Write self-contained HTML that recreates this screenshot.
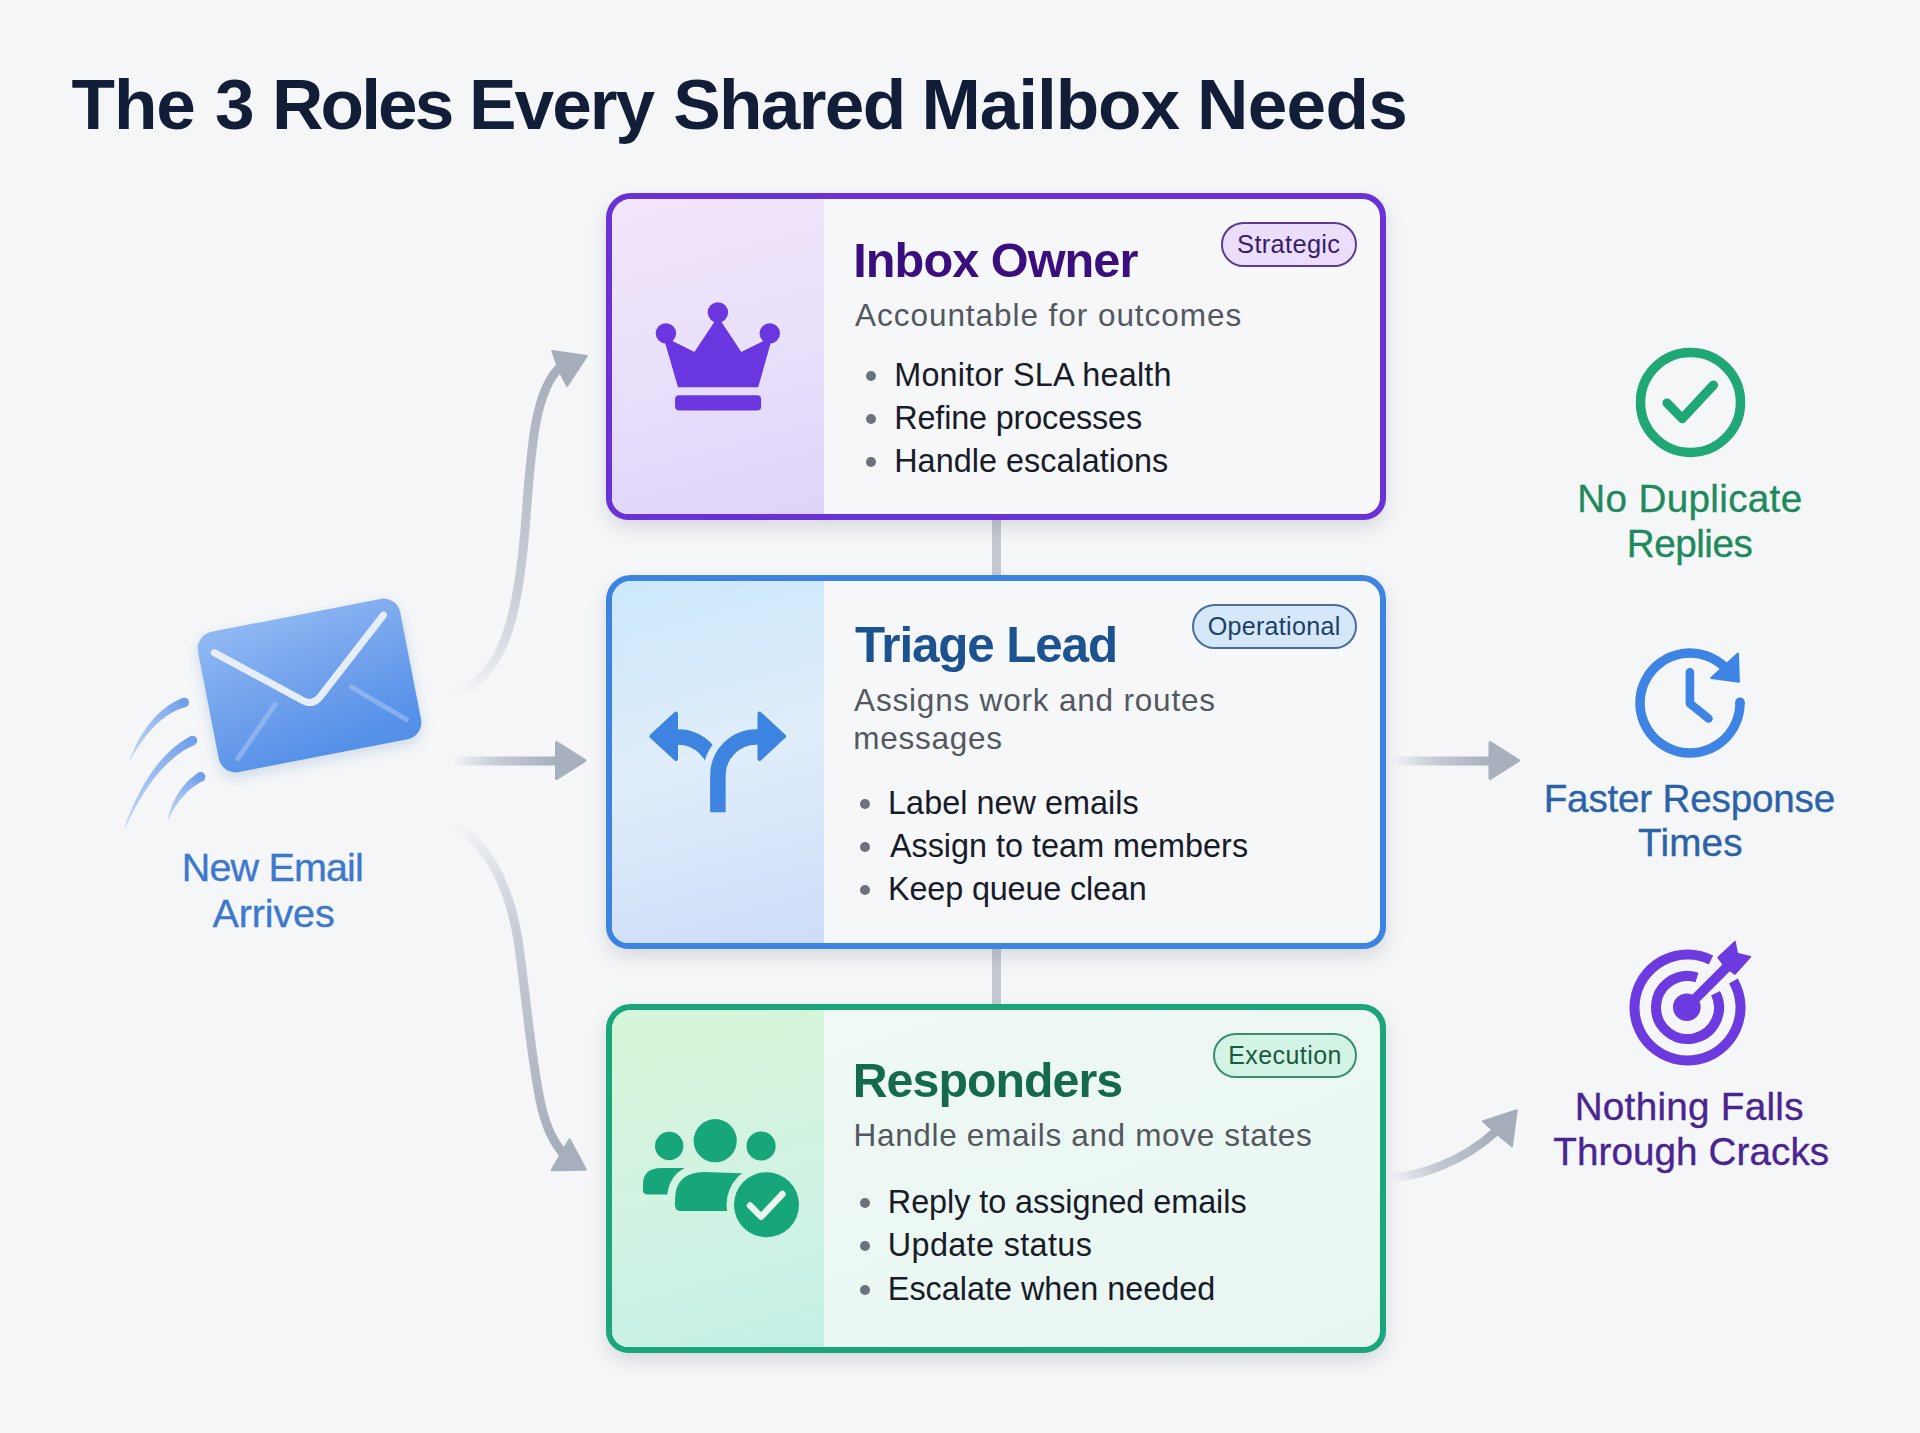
<!DOCTYPE html>
<html><head><meta charset="utf-8">
<style>
*{margin:0;padding:0;box-sizing:border-box}
html,body{width:1920px;height:1433px;overflow:hidden}
body{position:relative;background:#f4f6f8;font-family:"Liberation Sans",sans-serif}
.t{position:absolute;white-space:nowrap;line-height:1}
.card{position:absolute;border-style:solid;border-width:6px;border-radius:25px 24px 22px 22px;overflow:hidden}
.panel{position:absolute;left:0;top:0;bottom:0;width:212px}
.badge{position:absolute;border:2px solid;border-radius:24px}
.dot{position:absolute;border-radius:50%;background:#6c717c}
.conn{position:absolute;left:992px;width:9px;background:#c5c9d1}
svg.ov{position:absolute;left:0;top:0}
</style></head><body>
<div class="conn" style="top:515px;height:65px"></div>
<div class="conn" style="top:944px;height:65px"></div>

<div class="card" style="left:606px;top:193px;width:780px;height:327px;border-color:#6a32d6;background:#f6f7f9;box-shadow:0 8px 18px rgba(30,30,50,0.13)">
  <div class="panel" style="background:linear-gradient(165deg,#f3e6fb 0%,#e9e0fb 50%,#dfd3f9 100%)"></div>
</div>
<div class="card" style="left:606px;top:575px;width:780px;height:374px;border-color:#3d84e2;background:#f6f7f9;box-shadow:0 8px 18px rgba(30,30,50,0.13)">
  <div class="panel" style="background:linear-gradient(165deg,#cbe8fb 0%,#e0edfb 48%,#cddcf8 100%)"></div>
</div>
<div class="card" style="left:606px;top:1004px;width:780px;height:349px;border-color:#1aa57a;background:linear-gradient(160deg,#f0f9f5,#e8f6f1);box-shadow:0 8px 18px rgba(30,30,50,0.13)">
  <div class="panel" style="background:linear-gradient(165deg,#d6f6d8 0%,#d3f3e3 50%,#c4efe6 100%)"></div>
</div>

<div class="badge" style="left:1221px;top:222px;width:136px;height:45px;border-color:#5b3b98;background:#ecdefb"></div>
<div class="badge" style="left:1192px;top:604px;width:165px;height:45px;border-color:#4b6c9c;background:#d4e8f9"></div>
<div class="badge" style="left:1213px;top:1033px;width:144px;height:45px;border-color:#3a8e6e;background:#d3f4e5"></div>

<div class="dot" style="left:866px;top:371.0px;width:10px;height:10px"></div><div class="dot" style="left:866px;top:414.1px;width:10px;height:10px"></div><div class="dot" style="left:866px;top:457.0px;width:10px;height:10px"></div><div class="dot" style="left:860px;top:798.7px;width:10px;height:10px"></div><div class="dot" style="left:860px;top:841.9px;width:10px;height:10px"></div><div class="dot" style="left:860px;top:885.2px;width:10px;height:10px"></div><div class="dot" style="left:860px;top:1197.8px;width:10px;height:10px"></div><div class="dot" style="left:860px;top:1241.1px;width:10px;height:10px"></div><div class="dot" style="left:860px;top:1284.5px;width:10px;height:10px"></div>
<svg class="ov" width="1920" height="1433" viewBox="0 0 1920 1433">
<defs>
<linearGradient id="gTop" gradientUnits="userSpaceOnUse" x1="455" y1="694" x2="560" y2="365">
 <stop offset="0" stop-color="#a9b0bc" stop-opacity="0"/><stop offset="0.35" stop-color="#b4bac6" stop-opacity="0.7"/><stop offset="1" stop-color="#a6adba"/></linearGradient>
<linearGradient id="gBot" gradientUnits="userSpaceOnUse" x1="455" y1="824" x2="560" y2="1150">
 <stop offset="0" stop-color="#a9b0bc" stop-opacity="0"/><stop offset="0.35" stop-color="#b4bac6" stop-opacity="0.7"/><stop offset="1" stop-color="#a6adba"/></linearGradient>
<linearGradient id="gMidL" gradientUnits="userSpaceOnUse" x1="452" y1="0" x2="556" y2="0">
 <stop offset="0" stop-color="#a9b0bc" stop-opacity="0"/><stop offset="0.5" stop-color="#b5bcc8" stop-opacity="0.8"/><stop offset="1" stop-color="#a8afbd"/></linearGradient>
<linearGradient id="gMidR" gradientUnits="userSpaceOnUse" x1="1392" y1="0" x2="1490" y2="0">
 <stop offset="0" stop-color="#a9b0bc" stop-opacity="0"/><stop offset="0.5" stop-color="#b5bcc8" stop-opacity="0.8"/><stop offset="1" stop-color="#a8afbd"/></linearGradient>
<linearGradient id="gBR" gradientUnits="userSpaceOnUse" x1="1391" y1="1178" x2="1495" y2="1132">
 <stop offset="0" stop-color="#a9b0bc" stop-opacity="0"/><stop offset="0.4" stop-color="#b8bec9" stop-opacity="0.8"/><stop offset="1" stop-color="#a6adba"/></linearGradient>
<linearGradient id="gEnv" x1="0.2" y1="0" x2="0.5" y2="1">
 <stop offset="0" stop-color="#8fb8f3"/><stop offset="0.5" stop-color="#72a2ec"/><stop offset="1" stop-color="#5490e8"/></linearGradient>
<linearGradient id="gSpd" gradientUnits="userSpaceOnUse" x1="200" y1="700" x2="125" y2="830">
 <stop offset="0" stop-color="#74a2ea"/><stop offset="1" stop-color="#9fbdf0" stop-opacity="0.7"/></linearGradient>
<filter id="fsh" x="-20%" y="-20%" width="140%" height="150%"><feDropShadow dx="0" dy="5" stdDeviation="6" flood-color="#3060a0" flood-opacity="0.18"/></filter>
<mask id="mFork" maskUnits="userSpaceOnUse" x="640" y="700" width="160" height="120">
 <rect x="640" y="700" width="160" height="120" fill="#fff"/>
 <path d="M717.9 812.2 L717.9 775.4 A38.5 38.5 0 0 1 756.4 736.9 L760 736.9" fill="none" stroke="#000" stroke-width="30"/>
</mask>
<mask id="mResp" maskUnits="userSpaceOnUse" x="600" y="1100" width="220" height="160">
 <rect x="600" y="1100" width="220" height="160" fill="#fff"/>
 <circle cx="766.5" cy="1204.7" r="40" fill="#000"/>
</mask>
<mask id="mRespL" maskUnits="userSpaceOnUse" x="600" y="1100" width="220" height="160">
 <rect x="600" y="1100" width="220" height="160" fill="#fff"/>
 <path d="M675 1211 L675 1200 Q675 1172 705 1172 L745 1174 L745 1211 Z" fill="#000" stroke="#000" stroke-width="16" stroke-linejoin="round"/>
</mask>
</defs>
<path d="M453 694 C506 678 518 610 525 530 C531 450 534 392 560 367" fill="none" stroke="url(#gTop)" stroke-width="9" stroke-linecap="round"/>
<path d="M552.2 350.9 L586.9 356 L567.1 386 L559 370 Z" fill="#a7aebb" stroke="#a7aebb" stroke-width="2" stroke-linejoin="round"/>
<path d="M452 761 L557 761" fill="none" stroke="url(#gMidL)" stroke-width="9"/>
<path d="M556.5 742.5 L585 760.5 L556.5 778.5 Z" fill="#a8afbd" stroke="#a8afbd" stroke-width="3" stroke-linejoin="round"/>
<path d="M454 824 C490 845 510 890 518 940 C526 995 530 1050 540 1100 C545 1125 552 1140 562 1152" fill="none" stroke="url(#gBot)" stroke-width="9" stroke-linecap="round"/>
<path d="M569.5 1139.5 L585.6 1169.6 L551.9 1170 Z" fill="#a8afbc" stroke="#a8afbc" stroke-width="2.5" stroke-linejoin="round"/>
<path d="M1392 761 L1490 761" fill="none" stroke="url(#gMidR)" stroke-width="9"/>
<path d="M1490 742.5 L1518.5 760.5 L1490 778.5 Z" fill="#a8afbd" stroke="#a8afbd" stroke-width="3" stroke-linejoin="round"/>
<path d="M1391 1178 C1420 1176 1462 1162 1494 1133" fill="none" stroke="url(#gBR)" stroke-width="9" stroke-linecap="round"/>
<path d="M1483.1 1121.2 L1516.7 1110.2 L1512 1146.2 L1497 1134 Z" fill="#a6adba" stroke="#a6adba" stroke-width="2" stroke-linejoin="round"/>
<g filter="url(#fsh)"><rect x="-103" y="-71.5" width="206" height="143" rx="17" fill="url(#gEnv)" transform="translate(309.5 685.5) rotate(-11)"/></g>
<path d="M214.3 652.6 L302.5 700.3 Q313 706 320.3 696.5 L383.5 615" fill="none" stroke="#e6eefa" stroke-width="7" stroke-linecap="round" stroke-linejoin="round"/>
<path d="M237.9 758.7 L275.1 704.3 M351.3 687 L406.6 719.7" fill="none" stroke="#a9c6f3" stroke-opacity="0.55" stroke-width="5" stroke-linecap="round"/>
<linearGradient id="gs0" gradientUnits="userSpaceOnUse" x1="184.4" y1="702.5" x2="130" y2="759.6"><stop offset="0" stop-color="#72a0ea"/><stop offset="1" stop-color="#9dbcf0" stop-opacity="0.55"/></linearGradient>
<path d="M182.9 698.0 L180.8 698.8 L178.7 699.7 L176.6 700.7 L174.6 701.8 L172.6 702.9 L170.6 704.1 L168.6 705.4 L166.7 706.8 L164.8 708.2 L163.0 709.7 L161.2 711.2 L159.4 712.8 L157.6 714.5 L155.9 716.3 L154.2 718.1 L152.5 720.0 L150.8 722.0 L149.2 724.0 L147.6 726.1 L146.1 728.2 L144.5 730.5 L143.0 732.8 L141.6 735.1 L140.1 737.5 L138.7 740.0 L137.3 742.6 L135.9 745.2 L134.6 747.9 L133.3 750.7 L132.1 753.5 L130.9 756.5 L129.8 759.5 L130.2 759.7 L131.9 757.0 L133.5 754.3 L135.1 751.7 L136.7 749.1 L138.3 746.6 L139.9 744.2 L141.6 741.8 L143.2 739.6 L144.8 737.4 L146.5 735.2 L148.2 733.2 L149.9 731.2 L151.6 729.3 L153.3 727.5 L155.0 725.7 L156.7 724.0 L158.5 722.4 L160.2 720.9 L162.0 719.4 L163.8 718.1 L165.6 716.7 L167.3 715.5 L169.2 714.3 L171.0 713.2 L172.8 712.2 L174.6 711.3 L176.5 710.4 L178.3 709.6 L180.2 708.8 L182.1 708.2 L184.0 707.6 L185.9 707.0Z" fill="url(#gs0)"/>
<circle cx="184.4" cy="702.5" r="4.75" fill="#72a0ea"/>
<linearGradient id="gs1" gradientUnits="userSpaceOnUse" x1="192.5" y1="740.6" x2="124.5" y2="828.5"><stop offset="0" stop-color="#72a0ea"/><stop offset="1" stop-color="#9dbcf0" stop-opacity="0.55"/></linearGradient>
<path d="M190.4 736.3 L187.8 737.7 L185.3 739.3 L182.7 740.9 L180.2 742.6 L177.7 744.4 L175.3 746.3 L172.9 748.3 L170.6 750.4 L168.2 752.6 L165.9 754.9 L163.7 757.3 L161.5 759.7 L159.3 762.3 L157.1 764.9 L155.0 767.7 L152.9 770.5 L150.9 773.4 L148.9 776.4 L146.9 779.5 L144.9 782.7 L143.0 786.0 L141.1 789.4 L139.3 792.9 L137.4 796.4 L135.7 800.1 L133.9 803.8 L132.2 807.7 L130.5 811.6 L128.8 815.7 L127.2 819.8 L125.7 824.0 L124.3 828.4 L124.7 828.6 L126.8 824.5 L128.7 820.5 L130.7 816.5 L132.7 812.6 L134.6 808.9 L136.6 805.2 L138.6 801.7 L140.7 798.2 L142.7 794.8 L144.8 791.6 L146.9 788.4 L149.0 785.3 L151.1 782.4 L153.2 779.5 L155.4 776.7 L157.6 774.1 L159.8 771.5 L162.0 769.0 L164.2 766.7 L166.4 764.4 L168.7 762.2 L171.0 760.2 L173.3 758.2 L175.6 756.3 L177.9 754.6 L180.2 752.9 L182.6 751.3 L185.0 749.8 L187.3 748.4 L189.7 747.2 L192.1 746.0 L194.6 744.9Z" fill="url(#gs1)"/>
<circle cx="192.5" cy="740.6" r="4.75" fill="#72a0ea"/>
<linearGradient id="gs2" gradientUnits="userSpaceOnUse" x1="200.7" y1="776.8" x2="168" y2="819.5"><stop offset="0" stop-color="#72a0ea"/><stop offset="1" stop-color="#9dbcf0" stop-opacity="0.55"/></linearGradient>
<path d="M198.3 772.7 L196.9 773.7 L195.4 774.7 L194.1 775.8 L192.7 776.9 L191.4 778.0 L190.1 779.1 L188.8 780.3 L187.6 781.5 L186.4 782.8 L185.2 784.0 L184.1 785.3 L183.0 786.7 L181.9 788.0 L180.8 789.4 L179.8 790.8 L178.9 792.3 L177.9 793.8 L177.0 795.3 L176.1 796.8 L175.3 798.4 L174.4 800.0 L173.6 801.6 L172.9 803.2 L172.2 804.9 L171.5 806.6 L170.8 808.4 L170.2 810.1 L169.6 811.9 L169.0 813.7 L168.5 815.6 L168.1 817.5 L167.8 819.4 L168.2 819.6 L169.2 817.9 L170.1 816.2 L170.9 814.5 L171.8 812.8 L172.7 811.2 L173.6 809.7 L174.5 808.1 L175.4 806.6 L176.4 805.1 L177.3 803.7 L178.3 802.3 L179.3 801.0 L180.3 799.6 L181.4 798.3 L182.4 797.1 L183.5 795.9 L184.6 794.7 L185.7 793.5 L186.8 792.4 L188.0 791.3 L189.1 790.3 L190.3 789.3 L191.5 788.3 L192.7 787.3 L193.9 786.4 L195.2 785.5 L196.5 784.7 L197.8 783.9 L199.1 783.1 L200.4 782.3 L201.7 781.6 L203.1 780.9Z" fill="url(#gs2)"/>
<circle cx="200.7" cy="776.8" r="4.75" fill="#72a0ea"/>
<g fill="#6a36e0"><circle cx="717.9" cy="312.5" r="10.2"/><circle cx="665.9" cy="333.4" r="10.2"/><circle cx="769.8" cy="333.4" r="10.2"/><path d="M664.5 338 L694.7 353 L717.9 318 L741 353 L771.3 338 L757.6 386.6 L678.6 386.6 Z" stroke="#6a36e0" stroke-width="1.5" stroke-linejoin="round"/><rect x="675.1" y="395.3" width="86" height="15.3" rx="4"/></g>
<g fill="none" stroke="#3d84e0" stroke-width="15.5"><path d="M717.9 812.2 L717.9 775.4 A38.5 38.5 0 0 1 756.4 736.9 L760 736.9"/><path mask="url(#mFork)" d="M676 736.9 L678 736.9 A38.5 38.5 0 0 1 716.5 775.4"/></g>
<g fill="#3d84e0" stroke="#3d84e0" stroke-width="4" stroke-linejoin="round"><path d="M759.5 713.5 L784 736.3 L759.5 759 Z"/><path d="M676 713.5 L651.4 736.3 L676 759 Z"/></g>
<g fill="#17a67a"><circle cx="715.2" cy="1140.7" r="21.6"/><circle cx="669.2" cy="1146" r="14.2"/><circle cx="761.1" cy="1146" r="14.6"/><path mask="url(#mRespL)" d="M643 1190 L643 1184 Q643 1168 662 1168 L700 1168 L700 1194.4 L647 1194.4 Q643 1194.4 643 1190 Z"/><path mask="url(#mResp)" d="M675 1205 L675 1200 Q675 1172 705 1172 L760 1174 L760 1211 L681 1211 Q675 1211 675 1205 Z"/><circle cx="766.5" cy="1204.7" r="32.5"/></g>
<polyline points="750,1205.5 761.1,1216.8 782.5,1194" fill="none" stroke="#eaf8f1" stroke-width="6.5" stroke-linecap="round" stroke-linejoin="round"/>
<circle cx="1690.5" cy="402.4" r="50" fill="none" stroke="#1fa776" stroke-width="9.5"/>
<polyline points="1667,403 1682.2,418.6 1713.5,385" fill="none" stroke="#1fa776" stroke-width="9.2" stroke-linecap="round" stroke-linejoin="round"/>
<path d="M1739.99 702.13 A50 50 0 1 1 1724.42 666.73" fill="none" stroke="#3d84e4" stroke-width="9.5"/>
<circle cx="1739.99" cy="702.13" r="4.75" fill="#3d84e4"/>
<path d="M1711.2 678.1 L1738 653.6 L1738.9 681.7 Z" fill="#3d84e4" stroke="#3d84e4" stroke-width="2" stroke-linejoin="round"/>
<polyline points="1689.9,672.2 1689.9,703.5 1708.5,718.5" fill="none" stroke="#3d84e4" stroke-width="8.6" stroke-linecap="round" stroke-linejoin="round"/>
<path d="M1733.40 981.00 A53 53 0 1 1 1710.98 959.99" fill="none" stroke="#6d3ae0" stroke-width="10"/>
<path d="M1715.57 993.20 A31.5 31.5 0 1 1 1696.97 977.46" fill="none" stroke="#6d3ae0" stroke-width="10"/>
<circle cx="1686.8" cy="1007.2" r="13.8" fill="#6d3ae0"/>
<path d="M1687 1007 L1728 966" stroke="#6d3ae0" stroke-width="10" fill="none"/>
<path d="M1718 957.6 L1735 941.6 L1737.3 953.4 L1750.5 956.7 L1735 974.1 L1726 968 Z" fill="#6d3ae0" stroke="#6d3ae0" stroke-width="1.5" stroke-linejoin="round"/>
</svg>
<div class="t" style="left:71.58px;top:68.51px;font-size:71.17px;letter-spacing:-1.090px;color:#121d38;font-weight:700;">The</div>
<div class="t" style="left:215.10px;top:68.51px;font-size:71.17px;letter-spacing:0.000px;color:#121d38;font-weight:700;">3</div>
<div class="t" style="left:272.04px;top:68.51px;font-size:71.17px;letter-spacing:-2.865px;color:#121d38;font-weight:700;">Roles</div>
<div class="t" style="left:469.00px;top:68.51px;font-size:71.17px;letter-spacing:-1.935px;color:#121d38;font-weight:700;">Every</div>
<div class="t" style="left:673.22px;top:68.51px;font-size:71.17px;letter-spacing:-1.636px;color:#121d38;font-weight:700;">Shared</div>
<div class="t" style="left:921.52px;top:68.51px;font-size:71.17px;letter-spacing:-1.057px;color:#121d38;font-weight:700;">Mailbox</div>
<div class="t" style="left:1197.00px;top:68.51px;font-size:71.17px;letter-spacing:-0.675px;color:#121d38;font-weight:700;">Needs</div>
<div class="t" style="left:853.30px;top:236.31px;font-size:48.66px;letter-spacing:-0.960px;color:#3a0e7c;font-weight:700;">Inbox Owner</div>
<div class="t" style="left:855.10px;top:300.02px;font-size:31.52px;letter-spacing:0.943px;color:#53585f;">Accountable for outcomes</div>
<div class="t" style="left:894.20px;top:359.08px;font-size:32.39px;letter-spacing:0.224px;color:#181b28;">Monitor SLA health</div>
<div class="t" style="left:894.20px;top:402.18px;font-size:32.39px;letter-spacing:-0.146px;color:#181b28;">Refine processes</div>
<div class="t" style="left:894.20px;top:445.08px;font-size:32.39px;letter-spacing:0.030px;color:#181b28;">Handle escalations</div>
<div class="t" style="left:855.00px;top:620.20px;font-size:49.38px;letter-spacing:-1.130px;color:#1c5290;font-weight:700;">Triage Lead</div>
<div class="t" style="left:854.10px;top:684.57px;font-size:31.52px;letter-spacing:0.800px;color:#53585f;">Assigns work and routes</div>
<div class="t" style="left:853.20px;top:722.72px;font-size:31.52px;letter-spacing:0.736px;color:#53585f;">messages</div>
<div class="t" style="left:888.08px;top:786.78px;font-size:32.39px;letter-spacing:0.029px;color:#181b28;">Label new emails</div>
<div class="t" style="left:889.88px;top:829.98px;font-size:32.39px;letter-spacing:0.007px;color:#181b28;">Assign to team members</div>
<div class="t" style="left:888.08px;top:873.28px;font-size:32.39px;letter-spacing:-0.161px;color:#181b28;">Keep queue clean</div>
<div class="t" style="left:852.69px;top:1056.38px;font-size:48.22px;letter-spacing:-0.913px;color:#156a4e;font-weight:700;">Responders</div>
<div class="t" style="left:853.59px;top:1119.72px;font-size:31.52px;letter-spacing:0.658px;color:#53585f;">Handle emails and move states</div>
<div class="t" style="left:887.81px;top:1185.88px;font-size:32.39px;letter-spacing:-0.049px;color:#181b28;">Reply to assigned emails</div>
<div class="t" style="left:887.81px;top:1229.18px;font-size:32.39px;letter-spacing:0.357px;color:#181b28;">Update status</div>
<div class="t" style="left:887.81px;top:1272.58px;font-size:32.39px;letter-spacing:-0.005px;color:#181b28;">Escalate when needed</div>
<div class="t" style="left:1237.10px;top:231.98px;font-size:25.42px;letter-spacing:0.337px;color:#3a1d6c;">Strategic</div>
<div class="t" style="left:1207.71px;top:614.33px;font-size:25.13px;letter-spacing:0.261px;color:#1e3f66;">Operational</div>
<div class="t" style="left:1228.20px;top:1042.75px;font-size:24.98px;letter-spacing:0.455px;color:#185c40;">Execution</div>
<div class="t" style="left:181.79px;top:847.96px;font-size:39.51px;letter-spacing:-0.849px;color:#3d78cc;-webkit-text-stroke:0.35px #3d78cc;">New Email</div>
<div class="t" style="left:212.54px;top:893.56px;font-size:39.51px;letter-spacing:-0.127px;color:#3d78cc;-webkit-text-stroke:0.35px #3d78cc;">Arrives</div>
<div class="t" style="left:1577.30px;top:479.50px;font-size:38.63px;letter-spacing:0.338px;color:#1e8a5c;-webkit-text-stroke:0.35px #1e8a5c;">No Duplicate</div>
<div class="t" style="left:1626.69px;top:524.60px;font-size:38.63px;letter-spacing:-0.452px;color:#1e8a5c;-webkit-text-stroke:0.35px #1e8a5c;">Replies</div>
<div class="t" style="left:1543.69px;top:779.80px;font-size:38.63px;letter-spacing:-0.192px;color:#2b62a8;-webkit-text-stroke:0.35px #2b62a8;">Faster Response</div>
<div class="t" style="left:1638.10px;top:824.30px;font-size:38.63px;letter-spacing:0.203px;color:#2b62a8;-webkit-text-stroke:0.35px #2b62a8;">Times</div>
<div class="t" style="left:1574.69px;top:1087.80px;font-size:38.63px;letter-spacing:0.279px;color:#4a2490;-webkit-text-stroke:0.35px #4a2490;">Nothing Falls</div>
<div class="t" style="left:1553.22px;top:1132.60px;font-size:38.63px;letter-spacing:0.087px;color:#4a2490;-webkit-text-stroke:0.35px #4a2490;">Through Cracks</div>
</body></html>
